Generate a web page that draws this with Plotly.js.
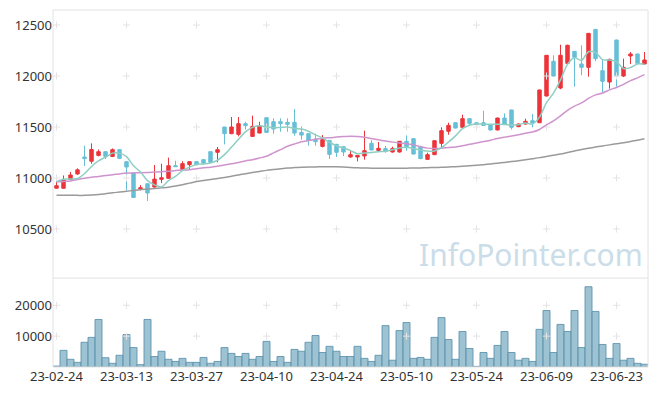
<!DOCTYPE html>
<html>
<head>
<meta charset="utf-8">
<script src="https://cdn.plot.ly/plotly-3.0.1.min.js"></script>
<style>
html,body{margin:0;padding:0;background:#fff;}
#chart{width:657px;height:396px;}
</style>
</head>
<body>
<div id="chart"></div>
<script>
const dates = [
"23-02-24","23-02-27","23-02-28","23-03-02","23-03-03","23-03-06","23-03-07","23-03-08","23-03-09","23-03-10",
"23-03-13","23-03-14","23-03-15","23-03-16","23-03-17","23-03-20","23-03-21","23-03-22","23-03-23","23-03-24",
"23-03-27","23-03-28","23-03-29","23-03-30","23-03-31","23-04-03","23-04-04","23-04-05","23-04-06","23-04-07",
"23-04-10","23-04-11","23-04-12","23-04-13","23-04-14","23-04-17","23-04-18","23-04-19","23-04-20","23-04-21",
"23-04-24","23-04-25","23-04-26","23-04-27","23-04-28","23-05-02","23-05-03","23-05-04","23-05-08","23-05-09",
"23-05-10","23-05-11","23-05-12","23-05-15","23-05-16","23-05-17","23-05-18","23-05-19","23-05-22","23-05-23",
"23-05-24","23-05-25","23-05-26","23-05-30","23-05-31","23-06-01","23-06-02","23-06-05","23-06-07","23-06-08",
"23-06-09","23-06-12","23-06-13","23-06-14","23-06-15","23-06-16","23-06-19","23-06-20","23-06-21","23-06-22",
"23-06-23","23-06-26","23-06-27","23-06-28","23-06-29"];

const openP = [10900,10900,10985,11040,11206,11165,11222,11258,11212,11278,
11160,11049,10892,10944,10912,10987,10997,11121,11082,11131,
11160,11180,11258,11252,11500,11435,11428,11533,11408,11441,
11591,11552,11552,11546,11546,11447,11435,11382,11310,11369,
11330,11307,11206,11206,11216,11340,11271,11288,11255,11255,
11360,11386,11301,11183,11229,11340,11458,11542,11497,11582,
11542,11542,11523,11471,11588,11667,11503,11529,11562,11542,
11804,12144,11882,12124,12242,12118,12085,12457,12052,11941,
12353,12000,12196,12216,12118];
const highP = [10960,11025,11060,11095,11317,11340,11280,11260,11290,11280,
11162,11050,10930,10945,11128,11140,11200,11170,11165,11165,
11165,11185,11260,11304,11502,11598,11598,11552,11611,11552,
11595,11585,11585,11585,11676,11506,11440,11435,11421,11372,
11335,11310,11275,11225,11464,11372,11353,11314,11307,11362,
11418,11388,11304,11248,11370,11497,11542,11545,11621,11585,
11546,11660,11525,11592,11634,11670,11536,11582,11627,11865,
12205,12203,12307,12307,12245,12301,12420,12460,12157,12170,
12356,12170,12235,12218,12235];
const lowP = [10895,10895,10980,11030,11118,11140,11212,11186,11205,11190,
10880,10810,10880,10775,10905,10950,10995,11108,11075,11090,
11125,11127,11150,11155,11330,11430,11408,11474,11405,11438,
11445,11435,11454,11454,11415,11376,11317,11317,11300,11186,
11206,11216,11200,11163,11180,11270,11268,11248,11250,11250,
11268,11232,11186,11180,11225,11294,11425,11485,11484,11516,
11516,11510,11465,11468,11525,11477,11500,11525,11497,11540,
11800,11995,11870,12118,11895,12006,11993,12144,11843,11876,
11895,11990,12118,12120,12115];
const closeP = [10925,10985,11030,11080,11190,11280,11258,11212,11278,11193,
11108,10810,10905,10853,10990,11003,11121,11112,11141,11160,
11131,11147,11154,11278,11435,11500,11533,11513,11506,11513,
11447,11480,11533,11526,11441,11421,11369,11356,11376,11232,
11252,11255,11229,11222,11268,11275,11291,11261,11288,11360,
11307,11235,11190,11229,11366,11464,11516,11490,11582,11536,
11523,11516,11471,11588,11529,11497,11529,11556,11542,11863,
12203,12000,12203,12301,12183,12085,12418,12170,11948,12163,
12000,12085,12216,12124,12157];

const ma5 = [10965,10988,10990,10995,11042,11113,11168,11204,11244,11244,
11210,11120,11059,10974,10933,10912,10974,11016,11073,11107,
11133,11138,11147,11174,11229,11303,11380,11452,11497,11513,
11502,11492,11496,11500,11485,11480,11458,11423,11393,11351,
11317,11294,11269,11238,11245,11250,11257,11263,11277,11295,
11301,11290,11276,11264,11265,11297,11353,11413,11484,11518,
11529,11529,11526,11527,11525,11520,11523,11540,11531,11597,
11739,11833,11962,12114,12178,12154,12238,12231,12161,12157,
12140,12073,12082,12118,12116];
const ma20 = [10964,10967,10971,10985,10997,11007,11015,11024,11032,11040,
11049,11050,11051,11053,11058,11062,11066,11073,11078,11082,
11092,11100,11106,11116,11128,11139,11153,11168,11180,11196,
11213,11246,11278,11311,11334,11355,11367,11379,11391,11395,
11401,11406,11410,11407,11399,11387,11375,11363,11352,11344,
11337,11325,11308,11293,11289,11291,11299,11305,11316,11331,
11344,11357,11370,11388,11401,11412,11424,11439,11451,11476,
11521,11560,11610,11664,11705,11736,11781,11815,11833,11864,
11888,11918,11955,11982,12013];
const maLong = [10830,10830,10830,10830,10830,10833,10838,10846,10855,10862,
10870,10878,10886,10893,10898,10904,10910,10922,10935,10950,
10965,10975,10985,10995,11005,11018,11030,11043,11055,11065,
11075,11083,11091,11098,11102,11105,11108,11109,11110,11110,
11110,11107,11103,11100,11098,11097,11097,11097,11097,11097,
11097,11098,11099,11101,11103,11105,11108,11111,11115,11120,
11125,11131,11138,11145,11153,11161,11170,11180,11190,11200,
11212,11223,11235,11250,11265,11280,11292,11303,11315,11325,
11335,11345,11358,11371,11384];

const volume = [300,5400,2500,1500,8000,9600,15400,3000,1200,3800,
10500,6300,750,15400,3400,5100,2500,1800,2800,1500,
1500,3100,1200,1800,6300,4400,3400,4400,2500,3400,
8300,1800,3400,1500,5700,5100,8000,10200,4700,6700,
5100,3400,3400,6700,2800,1800,3800,13400,2200,11800,
14400,2800,3100,2500,9600,16000,8900,2500,11500,6000,
200,4700,2800,7000,11500,4700,2200,2800,1800,12200,
18300,4700,13800,11500,18300,6300,26000,18000,7300,2800,
7600,2200,2800,1200,900];

const tickLabels = ["23-02-24","23-03-13","23-03-27","23-04-10","23-04-24","23-05-10","23-05-24","23-06-09","23-06-23"];
const priceTicks = [10500,11000,11500,12000,12500];
const volTicks = [10000,20000];

const crossPX = [], crossPY = [], crossVX = [], crossVY = [];
tickLabels.forEach(t => {
  priceTicks.forEach(v => { crossPX.push(t); crossPY.push(v); });
  volTicks.forEach(v => { crossVX.push(t); crossVY.push(v); });
});
const crossMarker = {symbol:'cross-thin', size:5, color:'#e4e4e4', line:{color:'#e4e4e4', width:1}};

const traces = [
  {type:'scatter', mode:'markers', x:crossPX, y:crossPY, xaxis:'x', yaxis:'y', marker:crossMarker, hoverinfo:'skip'},
  {type:'scatter', mode:'markers', x:crossVX, y:crossVY, xaxis:'x', yaxis:'y2', marker:crossMarker, hoverinfo:'skip'},
  {type:'scatter', mode:'lines', x:dates, y:maLong, xaxis:'x', yaxis:'y',
    line:{color:'#9a9a9a', width:1.5, shape:'spline', smoothing:0.8}, hoverinfo:'skip'},
  {type:'scatter', mode:'lines', x:dates, y:ma20, xaxis:'x', yaxis:'y',
    line:{color:'#cf93cd', width:1.5, shape:'spline', smoothing:0.8}, hoverinfo:'skip'},
  {type:'candlestick', x:dates, open:openP, high:highP, low:lowP, close:closeP, xaxis:'x', yaxis:'y',
    increasing:{line:{color:'#ec343a', width:1}, fillcolor:'#ec343a'},
    decreasing:{line:{color:'#66bfd7', width:1}, fillcolor:'#66bfd7'},
    whiskerwidth:0},
  {type:'scatter', mode:'lines', x:dates, y:ma5, xaxis:'x', yaxis:'y',
    line:{color:'#8fcfc3', width:1.5, shape:'spline', smoothing:0.8}, hoverinfo:'skip'},
  {type:'bar', x:dates, y:volume, xaxis:'x', yaxis:'y2',
    marker:{color:'rgba(140,184,202,0.85)', line:{color:'rgba(90,145,172,0.85)', width:1}}}
];

const tickFont = {family:'Noto Sans, Open Sans, sans-serif', size:13, color:'#333'};
const dom = 0.249;
const layout = {
  width:657, height:396,
  margin:{l:53, r:9, t:10, b:29},
  paper_bgcolor:'#fff', plot_bgcolor:'#fff',
  showlegend:false,
  bargap:0,
  boxgap:0.3,
  xaxis:{type:'category', categoryorder:'array', categoryarray:dates,
    range:[-0.5, dates.length-0.5], tickvals:tickLabels, ticktext:tickLabels,
    showgrid:false, zeroline:false, showline:false, ticks:'', tickfont:tickFont, anchor:'y2',
    rangeslider:{visible:false}, fixedrange:true, tickangle:0},
  yaxis:{domain:[dom,1], range:[10019,12647], tickvals:priceTicks, ticktext:priceTicks.map(String),
    showgrid:false, zeroline:false, showline:false, ticks:'', tickfont:tickFont, fixedrange:true},
  yaxis2:{domain:[0,dom], range:[0,28800], tickvals:volTicks, ticktext:volTicks.map(String),
    showgrid:false, zeroline:false, showline:false, ticks:'', tickfont:tickFont, fixedrange:true},
  shapes:[
    {type:'rect', xref:'paper', yref:'paper', x0:0, x1:1, y0:0, y1:1, line:{color:'#e2e2e2', width:1}},
    {type:'line', xref:'paper', yref:'paper', x0:0, x1:1, y0:dom, y1:dom, line:{color:'#e2e2e2', width:1}}
  ],
  annotations:[
    {text:'InfoPointer.com', xref:'paper', yref:'paper', x:0.803, y:0.314, xanchor:'center', yanchor:'middle',
     showarrow:false, font:{family:'Noto Sans, Open Sans, sans-serif', size:30, color:'#cadde8'}}
  ]
};

Plotly.newPlot('chart', traces, layout, {displayModeBar:false, staticPlot:true});
</script>
</body>
</html>
